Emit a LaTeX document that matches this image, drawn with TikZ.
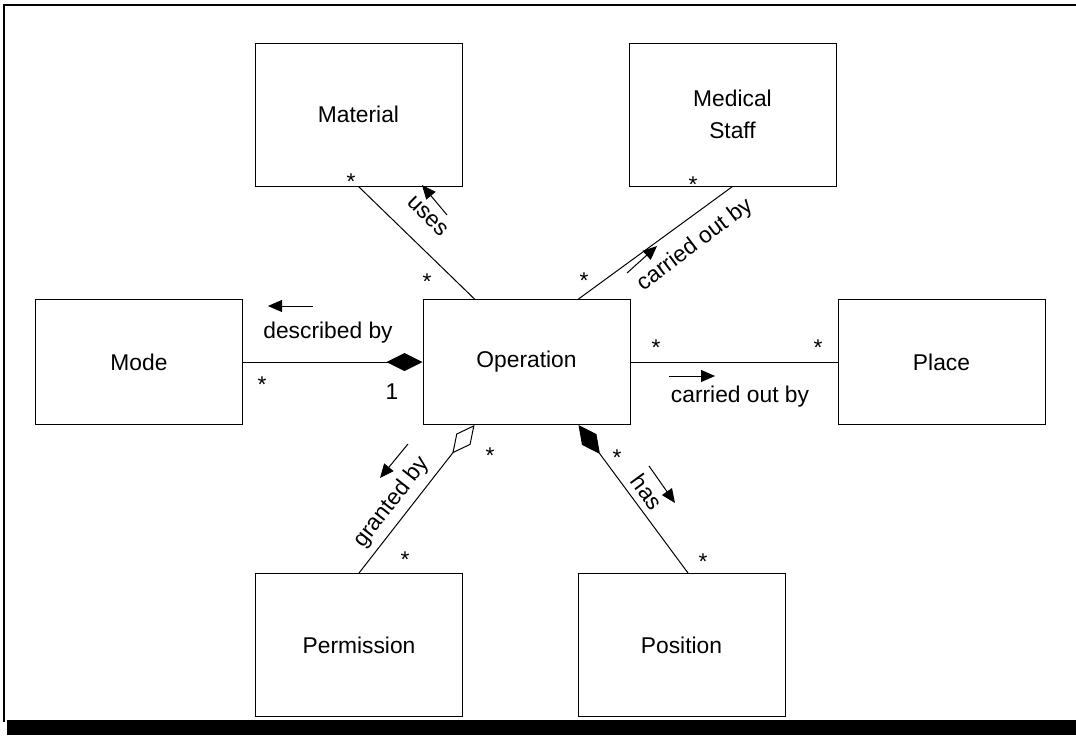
\documentclass[tikz,border=0pt]{standalone}
\usepackage{fontspec}
\setmainfont{Liberation Sans}
\usetikzlibrary{arrows.meta,calc}

\tikzset{
    cls/.style={draw, rectangle, minimum width=103.5pt, minimum height=62.5pt, inner sep=0pt, align=center, font=\fontsize{11.4}{15.9}\selectfont},
    tallcls/.style={cls, minimum height=71.5pt},
    mult/.style={inner sep=0pt, font=\fontsize{11.4}{13.7}\selectfont},
    comp/.style={-{Diamond[length=18pt,width=9pt]}},
    agg/.style={-{Diamond[open,length=18pt,width=9pt]}},
    dirarrow/.style={-{Triangle[length=7pt,width=6pt]}},
}

\begin{document}
\begin{tikzpicture}[x=0.5pt, y=-0.5pt, line width=0.5pt]
            \useasboundingbox (0, 0) rectangle (1076, 740);

            % frame
            \draw[line width=1pt] (1076, 5) -- (4, 5) -- (4, 722);
            \fill (7, 720) rectangle (1076, 735);

            % classes
            \node[tallcls] (Material) at (358.5, 114.5) {Material};
            \node[tallcls] (MedStaff) at (732.5, 114.5) {Medical\\Staff};
            \node[cls] (Mode) at (139, 362) {Mode};
            \node[cls] (Operation) at (526.5, 362) {Operation};
            \node[cls] (Place) at (941.5, 362) {Place};
            \node[tallcls] (Permission) at (359, 645) {Permission};
            \node[tallcls] (Position) at (681.5, 645) {Position};

            \coordinate (OpN1) at ($(Operation.north west)!0.25!(Operation.north east)$);
            \coordinate (OpN2) at ($(Operation.north west)!0.75!(Operation.north east)$);
            \coordinate (OpS1) at ($(Operation.south west)!0.25!(Operation.south east)$);
            \coordinate (OpS2) at ($(Operation.south west)!0.75!(Operation.south east)$);
            \coordinate (PosN) at ($(Position.north) + (6.5, 0)$);

            % associations
            \draw (Material.south) -- (OpN1);
            \draw (MedStaff.south) -- (OpN2);
            \draw[comp] (Mode.east) -- (Operation.west);
            \draw (Operation.east) -- (Place.west);
            \draw[agg] (Permission.north) -- (OpS1);
            \draw[comp] (PosN) -- (OpS2);

            % multiplicities
            \node[mult] (mMat) at (351, 182) {*};
            \node[mult] (mOpMat) at (427, 282) {*};
            \node[mult] (mStaff) at (693, 185) {*};
            \node[mult] (mOpStaff) at (584, 281) {*};
            \node[mult] (mMode) at (262, 385) {*};
            \node[mult] (mOpMode) at (392, 392) {1};
            \node[mult] (mOpPlace) at (656, 348) {*};
            \node[mult] (mPlace) at (818, 348) {*};
            \node[mult] (mOpPerm) at (490, 456) {*};
            \node[mult] (mPerm) at (405, 560) {*};
            \node[mult] (mOpPos) at (617, 458) {*};
            \node[mult] (mPos) at (703, 562) {*};

            % role names
            \node[mult, rotate=-45] (lUses) at (428, 216) {uses};
            \node[mult, rotate=37] (lStaff) at (695, 245) {carried out by};
            \node[mult] (lMode) at (328, 333) {described by};
            \node[mult] (lPlace) at (740, 397) {carried out by};
            \node[mult, rotate=52] (lPerm) at (392, 502) {granted by};
            \node[mult, rotate=-54] (lPos) at (647, 492) {has};

            % reading directions
            \draw[dirarrow] (447, 215) -- (422, 185);
            \draw[dirarrow] (627, 273) -- (657, 246);
            \draw[dirarrow] (313, 306) -- (268, 306);
            \draw[dirarrow] (669, 376) -- (715, 376);
            \draw[dirarrow] (408, 444) -- (380, 478);
            \draw[dirarrow] (649, 466) -- (675, 503);
\end{tikzpicture}
\end{document}
